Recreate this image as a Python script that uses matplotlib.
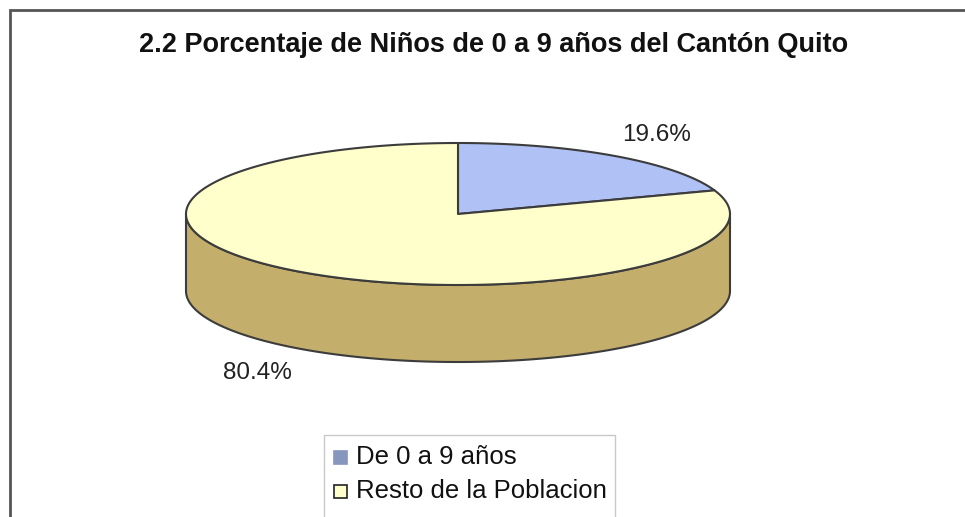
"""Porcentaje de niños de 0 a 9 años - pastel 3D"""

import numpy as np
import matplotlib.pyplot as plt
from matplotlib.patches import Polygon, Rectangle

# Datos
labels = ['De 0 a 9 años', 'Resto de la Poblacion']
values = [19.6, 80.4]
top_colors = ['#b0c1f6', '#ffffcc']
side_colors = ['#8c9acb', '#c3ae6c']
legend_colors = ['#8796bd', '#ffffcc']
title = '2.2 Porcentaje de Niños de 0 a 9 años del Cantón Quito'

# Geometria del pastel (pixeles)
cx, cy = 458, 214
rx, ry = 272, 71
depth = 77
edge = '#3c3c3c'

fig = plt.figure(figsize=(9.65, 5.17), dpi=100)
ax = fig.add_axes([0, 0, 1, 1])
ax.set_xlim(0, 965)
ax.set_ylim(517, 0)
ax.axis('off')


def ellipse_pts(t0, t1, dy=0, n=200):
    t = np.radians(np.linspace(t0, t1, n))
    return np.column_stack([cx + rx * np.cos(t), cy - ry * np.sin(t) + dy])


# Angulos de cada porcion, desde arriba en sentido horario
total = sum(values)
starts, ends = [], []
ang = 90.0
for v in values:
    starts.append(ang)
    ang -= 360.0 * v / total
    ends.append(ang)

# Paredes laterales visibles (mitad frontal)
for s, e, sc in zip(starts, ends, side_colors):
    lo, hi = e, s
    for off in (0, -360, 360):
        a0, a1 = max(lo, -180 + off), min(hi, 0 + off)
        if a1 > a0:
            top = ellipse_pts(a1, a0)
            bot = ellipse_pts(a0, a1, dy=depth)
            ax.add_patch(Polygon(np.vstack([top, bot]), closed=True, facecolor=sc,
                                 edgecolor=edge, linewidth=1.5, zorder=2))

# Caras superiores
for s, e, tc in zip(starts, ends, top_colors):
    arc = ellipse_pts(s, e)
    ax.add_patch(Polygon(np.vstack([[cx, cy], arc]), closed=True, facecolor=tc,
                         edgecolor=edge, linewidth=1.5, joinstyle='round', zorder=3))

# Etiquetas de porcentaje
label_pos = [(657, 135), (257, 373)]
for v, (x, y) in zip(values, label_pos):
    ax.text(x, y, f'{v:.1f}%', ha='center', va='center', fontsize=17.5,
            family='Liberation Sans', color='#222222')

# Titulo
ax.text(494, 45, title, ha='center', va='center', fontsize=19.5, fontweight='bold',
        family='Liberation Sans', color='#111111')

# Marco del grafico
ax.plot([10, 10, 965], [517, 10, 10], color='#555555', linewidth=2, solid_joinstyle='miter')

# Leyenda
ax.add_patch(Rectangle((324, 435), 291, 100, facecolor='white', edgecolor='#c8c8c8',
                       linewidth=1, zorder=4))
for i, (lab, lc) in enumerate(zip(labels, legend_colors)):
    y = 457 + i * 34
    ax.add_patch(Rectangle((334, y - 6), 13, 13, facecolor=lc,
                           edgecolor='#222222' if i else lc, linewidth=1.2, zorder=5))
    ax.text(356, y, lab, ha='left', va='center', fontsize=18.5,
            family='Liberation Sans', color='#111111', zorder=5)

fig.savefig('out.png', dpi=100)
